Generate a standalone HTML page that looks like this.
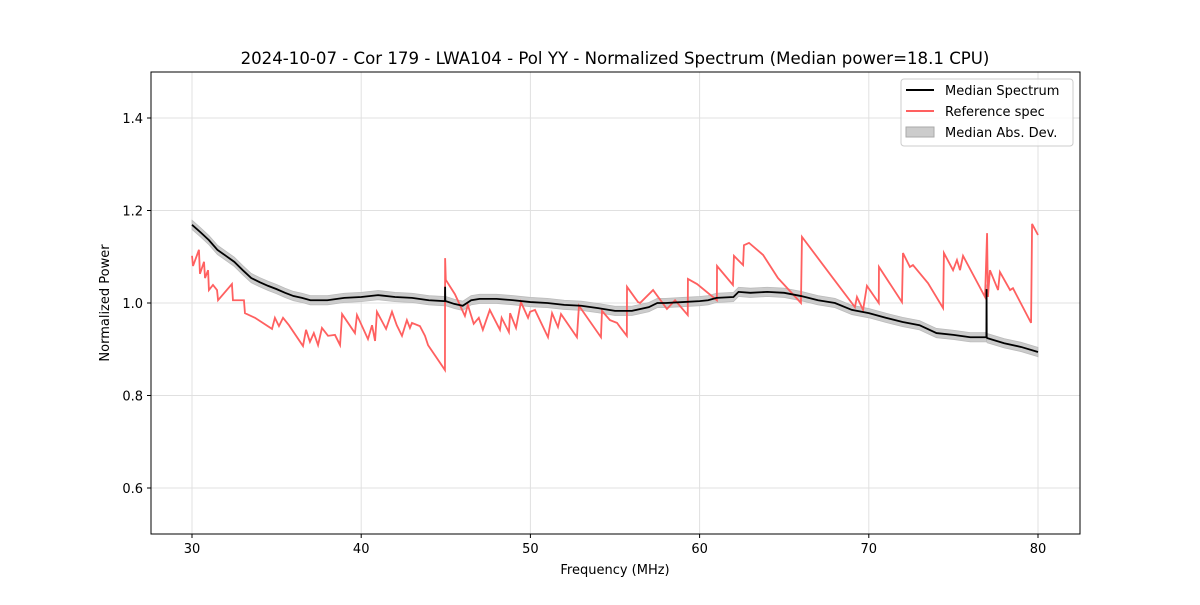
<!DOCTYPE html>
<html><head><meta charset="utf-8"><style>
body{margin:0;background:#fff;font-family:"Liberation Sans","DejaVu Sans",sans-serif}
</style></head><body>
<svg id="chart" width="1200" height="600" xmlns="http://www.w3.org/2000/svg" font-family="DejaVu Sans, Liberation Sans, sans-serif">
<rect width="1200" height="600" fill="#fff"/>
<g id="grid"></g>
<g id="band"></g>
<g id="lines"></g>
<rect x="151" y="72" width="929" height="462" fill="none" stroke="#000" stroke-width="1"/>
<g id="ticks" font-size="13"></g>
<text x="615" y="64" text-anchor="middle" font-size="16.6">2024-10-07 - Cor 179 - LWA104 - Pol YY - Normalized Spectrum (Median power=18.1 CPU)</text>
<text x="615" y="574" text-anchor="middle" font-size="13">Frequency (MHz)</text>
<text x="109" y="303" text-anchor="middle" font-size="13" transform="rotate(-90 109 303)">Normalized Power</text>
<g>
<rect x="901" y="79" width="172" height="67" rx="3" fill="#fff" fill-opacity="0.8" stroke="#ccc"/>
<line x1="906" y1="90" x2="934" y2="90" stroke="#000" stroke-width="2"/>
<text x="945" y="95" font-size="13">Median Spectrum</text>
<line x1="906" y1="111" x2="934" y2="111" stroke="#ff6060" stroke-width="2"/>
<text x="945" y="116" font-size="13">Reference spec</text>
<rect x="906" y="127" width="28" height="10" fill="#cccccc" stroke="#aaa"/>
<text x="945" y="137" font-size="13">Median Abs. Dev.</text>
</g>
</svg>
<script>
const xTicks=[30,40,50,60,70,80];
const yTicks=[0.6,0.8,1.0,1.2,1.4];
const refFreq=[30.0,30.06,30.41,30.47,30.71,30.77,30.95,31.0,31.24,31.48,31.54,32.36,32.42,33.07,33.13,33.72,34.73,34.9,35.14,35.38,35.73,36.56,36.74,36.97,37.2,37.45,37.68,38.04,38.45,38.75,38.87,39.63,39.75,40.4,40.64,40.82,40.93,41.47,41.82,42.1,42.41,42.7,42.88,43.0,43.47,43.77,43.95,44.95,44.96,45.0,45.54,46.13,46.3,46.65,46.95,47.19,47.6,48.2,48.3,48.73,48.8,49.15,49.44,49.86,49.98,50.27,51.04,51.28,51.63,51.81,52.75,52.87,54.17,54.23,54.7,55.12,55.3,55.7,55.71,56.36,56.48,57.25,58.07,58.55,59.3,59.31,59.85,61.02,61.03,61.97,62.03,62.57,62.62,62.92,63.75,64.63,65.99,66.05,67.88,69.18,69.3,69.66,69.89,70.59,70.6,71.96,72.02,72.43,72.61,73.5,74.39,74.44,74.98,75.21,75.39,75.57,76.87,76.99,77.04,77.16,77.64,77.75,78.35,78.52,79.59,79.65,80.0];
const refVal=[1.102,1.080,1.115,1.063,1.089,1.054,1.071,1.028,1.039,1.028,1.006,1.041,1.006,1.006,0.978,0.968,0.944,0.968,0.950,0.968,0.952,0.907,0.942,0.916,0.935,0.909,0.946,0.929,0.931,0.909,0.976,0.935,0.974,0.922,0.952,0.918,0.981,0.944,0.981,0.952,0.929,0.963,0.946,0.957,0.950,0.929,0.909,0.855,1.097,1.050,1.019,0.972,0.996,0.955,0.968,0.942,0.985,0.942,0.968,0.937,0.978,0.946,1.002,0.968,0.981,0.985,0.926,0.978,0.948,0.976,0.926,0.994,0.926,0.983,0.963,0.957,0.948,0.929,1.035,1.002,1.0,1.028,0.987,1.006,0.974,1.052,1.041,1.006,1.080,1.039,1.102,1.082,1.125,1.130,1.104,1.054,1.0,1.143,1.054,0.991,1.013,0.985,1.037,1.0,1.078,1.002,1.108,1.078,1.082,1.043,0.989,1.108,1.071,1.093,1.071,1.102,1.013,1.151,1.013,1.071,1.028,1.067,1.028,1.032,0.957,1.171,1.147];
const medFreq=[30,30.5,31,31.5,32,32.5,33,33.5,34,34.5,35,35.5,36,36.5,37,38,39,40,41,42,43,44,44.95,44.96,44.97,45,45.5,46,46.5,47,48,49,50,51,52,53,54,55,56,56.5,57,57.5,58,59,60,60.5,61,62,62.3,63,64,65,66,67,68,69,70,71,72,73,74,75,76,76.95,76.96,76.97,77,78,79,80];
const medVal=[1.169,1.153,1.136,1.115,1.102,1.089,1.071,1.054,1.045,1.037,1.030,1.022,1.015,1.011,1.006,1.006,1.011,1.013,1.017,1.013,1.011,1.006,1.004,1.035,1.004,1.004,0.998,0.994,1.006,1.009,1.009,1.006,1.002,1.0,0.996,0.994,0.989,0.983,0.983,0.987,0.991,1.0,1.0,1.002,1.004,1.006,1.011,1.013,1.024,1.022,1.024,1.022,1.015,1.006,1.0,0.985,0.978,0.968,0.959,0.952,0.935,0.931,0.926,0.926,1.03,0.926,0.924,0.913,0.905,0.894];
const madVal=0.01;
const X=f=>192+(f-30)*16.92, Y=v=>303-(v-1)*462.5;
const NS="http://www.w3.org/2000/svg";
const mk=(t,a,p)=>{const e=document.createElementNS(NS,t);for(const k in a)e.setAttribute(k,a[k]);document.getElementById(p).appendChild(e);return e;};
xTicks.forEach(t=>{
const g=mk('line',{x1:X(t),x2:X(t),y1:72,y2:534,stroke:'#e0e0e0'},'grid');


const k=mk('line',{x1:X(t),x2:X(t),y1:534,y2:538,stroke:'#000'},'ticks');


const l=mk('text',{x:X(t),y:553,'text-anchor':'middle'},'ticks');l.textContent=t;


});
yTicks.forEach(t=>{
const g=mk('line',{x1:151,x2:1080,y1:Y(t),y2:Y(t),stroke:'#e0e0e0'},'grid');


const k=mk('line',{x1:147,x2:151,y1:Y(t),y2:Y(t),stroke:'#000'},'ticks');


const l=mk('text',{x:143,y:Y(t)+5,'text-anchor':'end'},'ticks');l.textContent=t.toFixed(1);


});
let up=medFreq.map((f,i)=>X(f)+','+Y(medVal[i]+madVal)),dn=medFreq.map((f,i)=>X(f)+','+Y(medVal[i]-madVal)).reverse();
const b=mk('polygon',{points:up.concat(dn).join(' '),fill:'#cccccc',stroke:'#bbb','stroke-width':0.8},'band');


const r=mk('polyline',{points:refFreq.map((f,i)=>X(f)+','+Y(refVal[i])).join(' '),fill:'none',stroke:'#ff6060','stroke-width':1.8},'lines');


const m=mk('polyline',{points:medFreq.map((f,i)=>X(f)+','+Y(medVal[i])).join(' '),fill:'none',stroke:'#000','stroke-width':1.8},'lines');


</script>
</body></html>
